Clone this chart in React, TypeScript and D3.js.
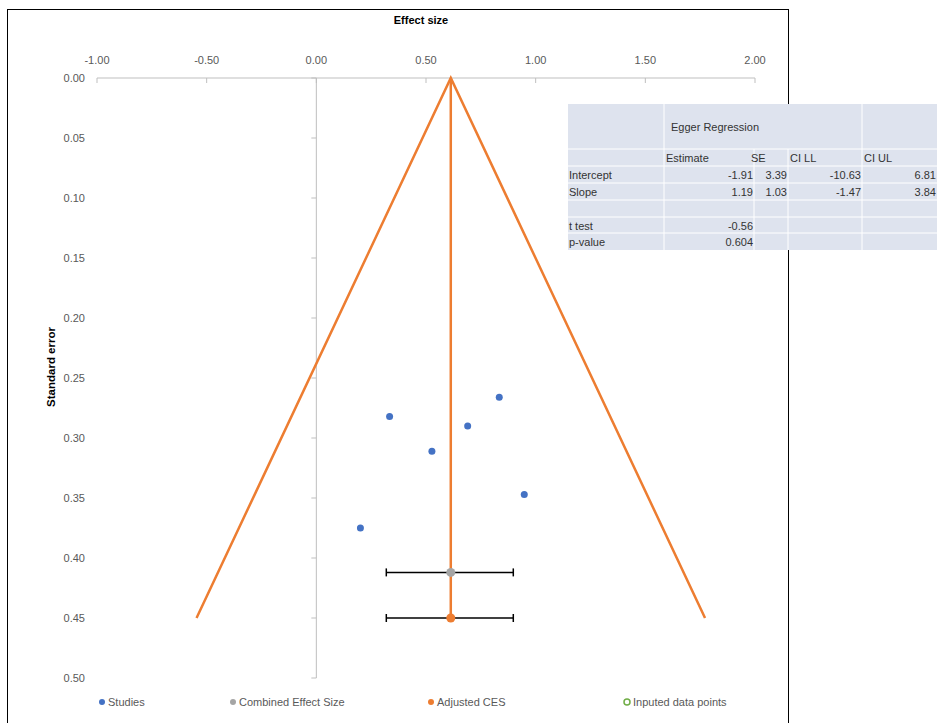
import React from "react";
import * as d3 from "d3";

const xTicks = [-1, -0.5, 0, 0.5, 1, 1.5, 2];
const yTicks = [0, 0.05, 0.1, 0.15, 0.2, 0.25, 0.3, 0.35, 0.4, 0.45, 0.5];
const studyES = [0.334, 0.527, 0.69, 0.834, 0.948, 0.201];
const studySE = [0.282, 0.311, 0.29, 0.266, 0.347, 0.375];
const combinedES = 0.613;
const combinedSE = 0.412;
const adjustedSE = 0.45;
const ciLow = 0.319;
const ciHigh = 0.898;
const funnelZ = 2.576;
const funnelMaxSE = 0.45;
const legendLabels = ["Studies", "Combined Effect Size", "Adjusted CES", "Inputed data points"];
const tableRows = [
  ["", "Estimate", "SE", "CI LL", "CI UL"],
  ["Intercept", "-1.91", "3.39", "-10.63", "6.81"],
  ["Slope", "1.19", "1.03", "-1.47", "3.84"],
  ["", "", "", "", ""],
  ["t test", "-0.56", "", "", ""],
  ["p-value", "0.604", "", "", ""],
];

const FONT = "'Liberation Sans', Arial, sans-serif";
const ORANGE = "#ED7D31";
const BLUE = "#4472C4";
const GRAY = "#A5A5A5";
const GREEN = "#70AD47";

const fmt = (v: number) => d3.format(".2f")(v).replace("\u2212", "-");

export default function App() {
  const x = d3.scaleLinear().domain([-1, 2]).range([97, 755]);
  const y = d3.scaleLinear().domain([0, 0.5]).range([78, 678]);
  const x0 = x(0);

  const funnel = d3.line<[number, number]>().x((d) => x(d[0])).y((d) => y(d[1]));
  const funnelPts: [number, number][] = [
    [combinedES - funnelZ * funnelMaxSE, funnelMaxSE],
    [combinedES, 0],
    [combinedES + funnelZ * funnelMaxSE, funnelMaxSE],
  ];

  const colX = [568, 664, 754, 788, 862, 937];
  const rowY = [104, 149, 166, 183, 200, 217, 233, 250];
  const legendX = [102, 233, 431, 627];
  const legendColors = [BLUE, GRAY, ORANGE, GREEN];

  return (
    <svg width={937} height={723} style={{ position: "absolute", left: 0, top: 0, background: "#fff" }} fontFamily={FONT}>
      <rect x={7.5} y={9.5} width={781} height={730} fill="#fff" stroke="#000" strokeWidth={1} />
      <text x={421} y={24} textAnchor="middle" fontSize={11} fontWeight="bold" fill="#000">Effect size</text>
      <text transform={`translate(55,367) rotate(-90)`} textAnchor="middle" fontSize={11.5} fontWeight="bold" fill="#000">Standard error</text>

      {/* top x axis */}
      <line x1={x(-1)} x2={x(2)} y1={y(0)} y2={y(0)} stroke="#BFBFBF" strokeWidth={1} />
      {xTicks.map((t) => (
        <g key={"xt" + t}>
          <line x1={x(t)} x2={x(t)} y1={y(0)} y2={y(0) + 5} stroke="#BFBFBF" />
          <text x={x(t)} y={64} textAnchor="middle" fontSize={11} fill="#595959">{fmt(t)}</text>
        </g>
      ))}
      {/* y axis at x=0 */}
      <line x1={x0} x2={x0} y1={y(0)} y2={y(0.5)} stroke="#BFBFBF" strokeWidth={1} />
      {yTicks.map((t) => (
        <g key={"yt" + t}>
          <line x1={x0 - 5} x2={x0} y1={y(t)} y2={y(t)} stroke="#BFBFBF" />
          <text x={85} y={y(t) + 4} textAnchor="end" fontSize={11} fill="#595959">{fmt(t)}</text>
        </g>
      ))}

      {/* funnel */}
      <path d={funnel(funnelPts) || ""} fill="none" stroke={ORANGE} strokeWidth={2.5} />
      <line x1={x(combinedES)} x2={x(combinedES)} y1={y(0)} y2={y(adjustedSE)} stroke={ORANGE} strokeWidth={2.5} />

      {/* error bars */}
      {[combinedSE, adjustedSE].map((se, i) => (
        <g key={"eb" + i}>
          <line x1={x(ciLow)} x2={x(ciHigh)} y1={y(se)} y2={y(se)} stroke="#000" strokeWidth={1.5} />
          <line x1={x(ciLow)} x2={x(ciLow)} y1={y(se) - 4} y2={y(se) + 4} stroke="#000" strokeWidth={1.5} />
          <line x1={x(ciHigh)} x2={x(ciHigh)} y1={y(se) - 4} y2={y(se) + 4} stroke="#000" strokeWidth={1.5} />
        </g>
      ))}
      <circle cx={x(combinedES)} cy={y(combinedSE)} r={4.5} fill={GRAY} />
      <circle cx={x(combinedES)} cy={y(adjustedSE)} r={4.5} fill={ORANGE} />

      {studyES.map((es, i) => (
        <circle key={"s" + i} cx={x(es)} cy={y(studySE[i])} r={3.5} fill={BLUE} />
      ))}

      {/* legend */}
      {legendLabels.map((l, i) => (
        <g key={"lg" + i}>
          {i === 3 ? (
            <circle cx={legendX[i]} cy={702} r={3} fill="none" stroke={GREEN} strokeWidth={1.5} />
          ) : (
            <circle cx={legendX[i]} cy={702} r={3} fill={legendColors[i]} />
          )}
          <text x={legendX[i] + 6} y={706} fontSize={11} fill="#595959">{l}</text>
        </g>
      ))}

      {/* Egger table */}
      <rect x={colX[0]} y={rowY[0]} width={colX[5] - colX[0]} height={rowY[7] - rowY[0]} fill="#DEE3EE" />
      {colX.slice(1, 5).map((cx, i) => (
        <line key={"cl" + i} x1={cx} x2={cx} y1={i === 0 || i === 3 ? rowY[0] : rowY[1]} y2={rowY[7]} stroke="#fff" strokeWidth={1} />
      ))}
      {rowY.slice(1, 7).map((ry, i) => (
        <line key={"rl" + i} x1={colX[0]} x2={colX[5]} y1={ry} y2={ry} stroke="#fff" strokeWidth={1} />
      ))}
      <text x={671} y={131} fontSize={11} fill="#333">Egger Regression</text>
      {tableRows.map((row, ri) =>
        row.map((cell, ci) => {
          if (!cell) return null;
          const isHeader = ri === 0;
          const yy = rowY[ri + 1] + 13;
          if (isHeader || ci === 0) {
            const hx = ci === 0 ? 569 : ci === 2 ? 751 : colX[ci] + 2;
            return <text key={ri + "-" + ci} x={hx} y={yy} fontSize={11} fill="#333">{cell}</text>;
          }
          return <text key={ri + "-" + ci} x={colX[ci + 1] - 1} y={yy} textAnchor="end" fontSize={11} fill="#333">{cell}</text>;
        })
      )}
    </svg>
  );
}
